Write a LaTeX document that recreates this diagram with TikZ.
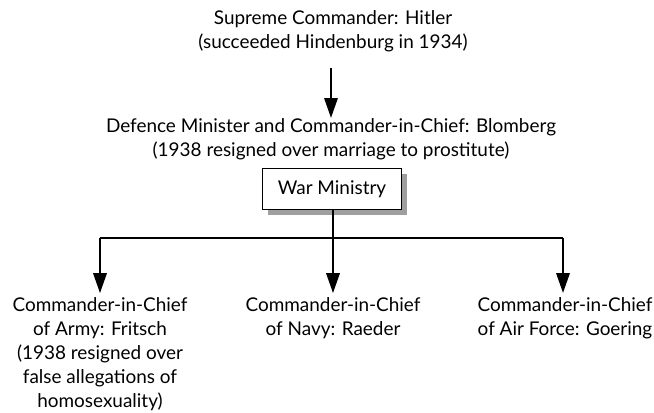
\documentclass[tikz,border=0pt]{standalone}
\usepackage{fontspec}
\setmainfont{Lato}
\usetikzlibrary{arrows.meta,shadows}
\begin{document}
\begin{tikzpicture}[x=0.75pt,y=-0.75pt,
  lbl/.style={align=center,font=\fontsize{14.2}{18}\selectfont,inner sep=0pt},
  conn/.style={line width=1.7pt},
  arr/.style={conn,-{Triangle[length=15pt,width=10pt]}},
  wbox/.style={draw,line width=1pt,fill=white,minimum width=104pt,minimum height=31pt,
    inner sep=0pt,font=\fontsize{14.2}{17}\selectfont,
    drop shadow={shadow xshift=4pt,shadow yshift=-4pt,fill=gray!75,opacity=1}}]
\useasboundingbox (0,0) rectangle (654,412);
\node[lbl] (hitler) at (333,31) {Supreme Commander: Hitler\\(succeeded Hindenburg in 1934)};
\node[lbl] (blom) at (331,139) {Defence Minister and Commander-in-Chief: Blomberg\\(1938 resigned over marriage to prostitute)};
\node[wbox] (war) at (332,189) {War Ministry};
\node[lbl] (army) at (100,354) {Commander-in-Chief\\of Army: Fritsch\\(1938 resigned over\\false allegations of\\homosexuality)};
\node[lbl] (navy) at (333,318) {Commander-in-Chief\\of Navy: Raeder};
\node[lbl] (air) at (565,318) {Commander-in-Chief\\of Air Force: Goering};
\coordinate (hl) at (100,238);
\coordinate (hm) at (333,238);
\coordinate (hr) at (563,238);
\coordinate (ta) at (331,68);
\coordinate (tb) at (331,118);
\draw[arr] (ta) -- (tb);
\draw[conn] (war.south -| hm) -- (hm);
\draw[conn] (hl) -- (hr);
\draw[arr] (hl) -- ([yshift=3pt]army.north -| hl);
\draw[arr] (hm) -- ([yshift=3pt]navy.north -| hm);
\draw[arr] (hr) -- ([yshift=3pt]air.north -| hr);
\end{tikzpicture}
\end{document}
